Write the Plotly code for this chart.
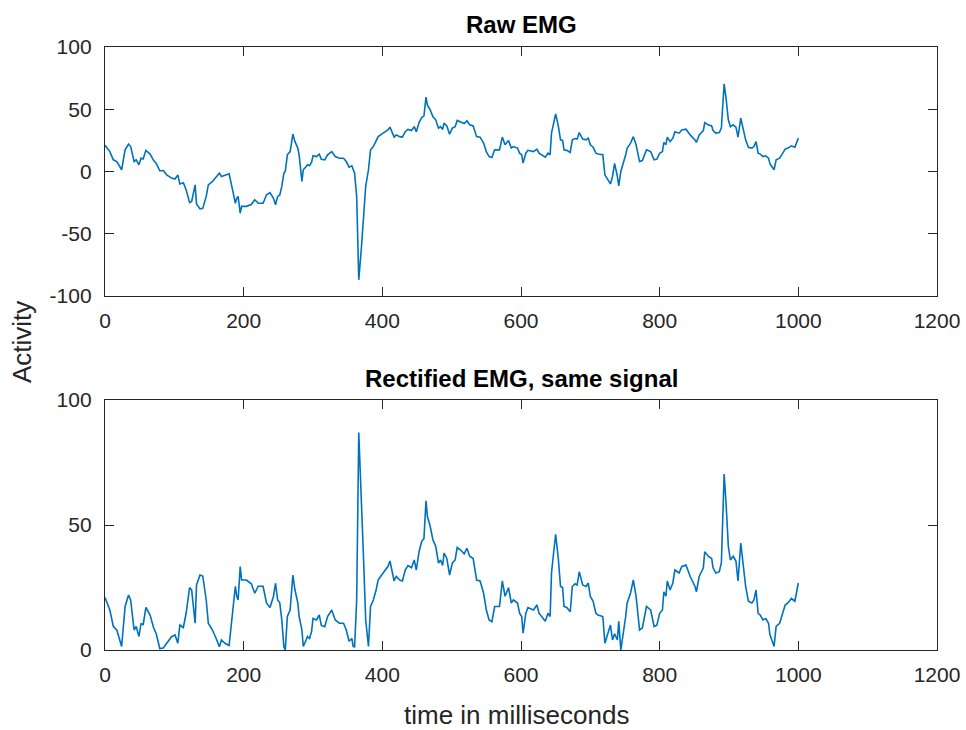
import numpy as np
import plotly.graph_objects as go

# time (ms) and raw EMG activity
t_ms = [0, 4, 7, 12, 17, 24, 29, 34, 37, 42, 45, 49, 52, 55, 59, 65, 70, 74, 79, 84,
        89, 96, 101, 105, 108, 113, 117, 122, 125, 130, 132, 137, 141, 146, 149, 155, 160, 165, 168, 173,
        179, 184, 188, 190, 192, 195, 197, 204, 211, 216, 221, 228, 233, 238, 243, 246, 249, 252, 255, 258,
        260, 263, 267, 271, 274, 278, 280, 284, 286, 290, 292, 295, 298, 300, 305, 309, 312, 317, 321, 327,
        332, 338, 344, 348, 352, 356, 358, 360, 363, 366, 370, 373, 376, 380, 383, 387, 391, 394, 399, 404,
        408, 411, 414, 417, 420, 425, 429, 433, 437, 442, 446, 449, 453, 457, 460, 463, 465, 469, 473, 477,
        481, 484, 487, 489, 493, 497, 501, 505, 508, 513, 518, 522, 526, 531, 536, 541, 546, 550, 554, 558,
        562, 569, 573, 577, 582, 586, 589, 595, 598, 601, 603, 607, 610, 618, 623, 626, 635, 639, 642, 644,
        647, 650, 654, 657, 660, 662, 666, 671, 674, 678, 681, 684, 689, 694, 697, 700, 704, 708, 711, 718,
        721, 726, 729, 732, 735, 739, 741, 744, 748, 751, 753, 758, 762, 766, 771, 775, 781, 787, 792, 796,
        800, 804, 806, 809, 811, 815, 819, 822, 828, 832, 838, 844, 851, 853, 857, 863, 865, 870, 875, 877,
        881, 886, 889, 893, 896, 899, 902, 906, 910, 913, 917, 921, 924, 928, 933, 936, 939, 942, 945, 949,
        953, 957, 959, 961, 965, 968, 973, 976, 981, 985, 990, 995, 997, 1000]

raw_emg = [21, 18, 16, 9.4, 8, 1.4, 17.4, 22, 20, 8, 9.4, 5.4, 10.7, 10, 17, 14, 9, 6.4, 0.6, 0.8,
           -2.7, -5.3, -6, -2.7, -10, -9, -14.7, -25, -24, -10.7, -26, -30, -29.6, -20, -10.7, -8, -4.8, -1.3, -4, -2.7,
           -1.8, -14.7, -25.5, -21.5, -20, -33.4, -28, -28, -26.5, -22.7, -25.5, -25.5, -18.7, -17, -21.5, -26.7, -20, -19, -12, -1.3,
           0, 13.4, 16, 30, 24, 19, 13.4, -8, 1.4, 4, 5.4, 4.6, 7.5, 12.6, 12, 14, 9.8, 9.3, 13.4, 16,
           12, 10.7, 10.7, 8, 3.5, 4.6, 1.4, -1.3, -20, -87, -60, -36, -12, 1.4, 17.4, 20, 24, 28, 30, 32,
           33.4, 35.6, 32, 27.6, 29.4, 28, 27.6, 32, 33.8, 32.9, 36, 32, 39.3, 43.6, 44.5, 59.7, 53.5, 49.5, 44, 41.5,
           34.8, 36, 33.8, 38.8, 36.6, 30, 34.8, 36, 41, 40, 38.5, 40.7, 37.5, 36.6, 28, 27.6, 22.8, 16, 12, 11.3,
           17.4, 17.4, 27.6, 21.5, 24.9, 18.8, 20, 18.8, 14.7, 13.4, 6.7, 14.7, 17, 16, 18, 14.7, 11.5, 14.7, 13.4, 30.8,
           38.8, 46.3, 36, 25.4, 25, 17.4, 17, 15.3, 25.4, 26.5, 26, 31.3, 26, 25.4, 26.8, 21.4, 19.5, 14.7, 14, 13.4,
           -2.7, -7, -10, -4, 6.5, -4, -11.5, 0, 6.7, 13.4, 18.7, 22.8, 28, 21.5, 8, 8.8, 17.4, 16, 9.4, 9.9,
           14.7, 16, 23.3, 21.5, 27.6, 24, 26.8, 32, 30.8, 33.4, 34, 29.4, 25.4, 23.3, 29.4, 32.9, 39.3, 37.5, 36.6, 32.9,
           30.8, 31.3, 34.8, 70.4, 57.5, 41.5, 36, 37.5, 35.6, 27.6, 42.8, 33.4, 25.4, 19.5, 18.8, 20, 24, 14.7, 14, 12,
           12.6, 10.7, 6.2, 4.6, 1.4, 9.4, 10.7, 13.4, 18, 18.8, 20.6, 19.5, 22.2, 26.8]

# rectified = absolute value of the same signal
rectified_emg = list(np.abs(np.array(raw_emg)))

x_ticks = [0, 200, 400, 600, 800, 1000, 1200]
y_ticks_top = [-100, -50, 0, 50, 100]
y_ticks_top_text = ["-100", "-50", "0", "50", "100"]
y_ticks_bot = [0, 50, 100]
y_ticks_bot_text = ["0", "50", "100"]

line_color = "#0072BD"
axis_color = "#262626"
font_family = "Liberation Sans, Arial, Helvetica, sans-serif"

fig = go.Figure()
fig.add_trace(go.Scatter(x=t_ms, y=raw_emg, mode="lines",
                         line=dict(color=line_color, width=1.6),
                         xaxis="x", yaxis="y", showlegend=False))
fig.add_trace(go.Scatter(x=t_ms, y=rectified_emg, mode="lines",
                         line=dict(color=line_color, width=1.6),
                         xaxis="x2", yaxis="y2", showlegend=False))

axis_common = dict(showline=True, linecolor=axis_color, linewidth=1.3, mirror="ticks",
                   ticks="inside", ticklen=9, tickwidth=1.3, tickcolor=axis_color,
                   showgrid=False, zeroline=False, automargin=False,
                   tickfont=dict(family=font_family, size=21, color=axis_color))

H_TOP, H_BOT = 47, 80
plot_h = 730 - H_TOP - H_BOT


def py(pix):
    return (730 - H_BOT - pix) / plot_h


fig.update_layout(
    width=966, height=730,
    margin=dict(l=105, r=29, t=H_TOP, b=H_BOT),
    plot_bgcolor="white", paper_bgcolor="white",
    xaxis=dict(domain=[0, 1], range=[0, 1200], tickvals=x_ticks, anchor="y",
               ticklabelstandoff=6, **axis_common),
    yaxis=dict(domain=[py(296), 1], range=[-100, 100], tickvals=y_ticks_top,
               ticktext=y_ticks_top_text, anchor="x", ticklabelstandoff=8, **axis_common),
    xaxis2=dict(domain=[0, 1], range=[0, 1200], tickvals=x_ticks, anchor="y2",
                ticklabelstandoff=6, **axis_common),
    yaxis2=dict(domain=[0, py(400)], range=[0, 100], tickvals=y_ticks_bot,
                ticktext=y_ticks_bot_text, anchor="x2", ticklabelstandoff=8, **axis_common),
    annotations=[
        dict(text="<b>Raw EMG</b>", x=0.5, y=py(25), xref="paper", yref="paper",
             showarrow=False, xanchor="center", yanchor="middle",
             font=dict(family=font_family, size=24, color="black")),
        dict(text="<b>Rectified EMG, same signal</b>", x=0.5, y=py(378), xref="paper", yref="paper",
             showarrow=False, xanchor="center", yanchor="middle",
             font=dict(family=font_family, size=24, color="black")),
        dict(text="time in milliseconds", x=(516 - 105) / 832, y=py(715), xref="paper", yref="paper",
             showarrow=False, xanchor="center", yanchor="middle",
             font=dict(family=font_family, size=26, color=axis_color)),
        dict(text="Activity", x=(22 - 105) / 832, y=py(342), xref="paper", yref="paper",
             showarrow=False, xanchor="center", yanchor="middle", textangle=-90,
             font=dict(family=font_family, size=26, color=axis_color)),
    ],
)

fig.write_html("out.html")
